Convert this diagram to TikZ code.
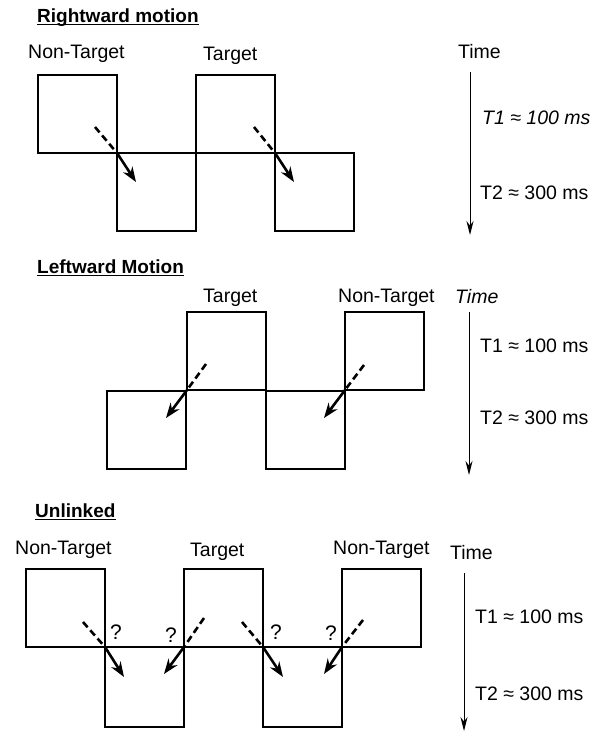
\documentclass[tikz,border=0pt]{standalone}
\usepackage{fontspec}
\setmainfont{Liberation Sans}
\usetikzlibrary{arrows.meta}
\begin{document}
\begin{tikzpicture}[x=1pt,y=-1pt,
 box/.style={draw, line width=1.3pt, minimum width=79pt, minimum height=78pt, inner sep=0pt, outer sep=0pt, anchor=north west},
 lbl/.style={anchor=base west, inner sep=0pt, font=\fontsize{19.5}{22}\selectfont},
 ttl/.style={anchor=base west, inner sep=0pt, font=\fontsize{19}{22}\selectfont\bfseries},
 uline/.style={line width=1.6pt},
 dashpart/.style={line width=2.6pt, dash pattern=on 7pt off 4pt},
 headpart/.style={line width=2.6pt, -{Stealth[length=15pt,width=11pt]}},
 timeaxis/.style={line width=1pt, -{Stealth[length=14pt,width=7pt]}}]
\useasboundingbox (0,0) rectangle (601,732);

% ---------------- Rightward motion ----------------
\node[ttl] (t1) at (37,22) {Rightward motion};
\draw[uline] ([yshift=-2.5pt]t1.base west) -- ([yshift=-2.5pt]t1.base east);
\node[lbl] (r-nt) at (28,58) {Non-Target};
\node[lbl] (r-t) at (203,60) {Target};
\node[lbl] (r-time) at (458,58) {Time};
\node[lbl, font=\fontsize{19.5}{22}\selectfont\itshape] (r-t1) at (482,124) {T1 ≈ 100 ms};
\node[lbl] (r-t2) at (480,199) {T2 ≈ 300 ms};

\node[box] (rb1) at (38,75) {};
\node[box] (rb2) at (117,153) {};
\node[box] (rb3) at (196,75) {};
\node[box] (rb4) at (275,153) {};

\draw[dashpart] ([shift={(-22,-26)}]rb1.south east) -- (rb1.south east);
\draw[headpart] (rb1.south east) -- ([shift={(19,29)}]rb1.south east);
\draw[dashpart] ([shift={(-21,-26)}]rb3.south east) -- (rb3.south east);
\draw[headpart] (rb3.south east) -- ([shift={(19,29)}]rb3.south east);

\coordinate (ra-s) at (470,72);
\coordinate (ra-e) at (470,235);
\draw[timeaxis] (ra-s) -- (ra-e);

% ---------------- Leftward Motion ----------------
\node[ttl] (t2) at (37,273) {Leftward Motion};
\draw[uline] ([yshift=-2.5pt]t2.base west) -- ([yshift=-2.5pt]t2.base east);
\node[lbl] (l-t) at (203,302) {Target};
\node[lbl] (l-nt) at (338,302) {Non-Target};
\node[lbl, font=\fontsize{19.5}{22}\selectfont\itshape] (l-time) at (455,303) {Time};
\node[lbl] (l-t1) at (480,352) {T1 ≈ 100 ms};
\node[lbl] (l-t2) at (480,424) {T2 ≈ 300 ms};

\node[box] (lb1) at (107,391) {};
\node[box] (lb2) at (187,312) {};
\node[box] (lb3) at (266,391) {};
\node[box] (lb4) at (345,312) {};

\draw[dashpart] ([shift={(19,-26)}]lb2.south west) -- (lb2.south west);
\draw[headpart] (lb2.south west) -- ([shift={(-21,28)}]lb2.south west);
\draw[dashpart] ([shift={(19,-25)}]lb4.south west) -- (lb4.south west);
\draw[headpart] (lb4.south west) -- ([shift={(-21,28)}]lb4.south west);

\coordinate (la-s) at (469,312);
\coordinate (la-e) at (469,475);
\draw[timeaxis] (la-s) -- (la-e);

% ---------------- Unlinked ----------------
\node[ttl] (t3) at (35,517) {Unlinked};
\draw[uline] ([yshift=-2.5pt]t3.base west) -- ([yshift=-2.5pt]t3.base east);
\node[lbl] (u-nt1) at (15,554) {Non-Target};
\node[lbl] (u-t) at (190,556) {Target};
\node[lbl] (u-nt2) at (333,554) {Non-Target};
\node[lbl] (u-time) at (450,559) {Time};
\node[lbl] (u-t1) at (475,623) {T1 ≈ 100 ms};
\node[lbl] (u-t2) at (475,700) {T2 ≈ 300 ms};

\node[box] (ub1) at (26,569) {};
\node[box, minimum height=80pt] (ub2) at (105,647) {};
\node[box] (ub3) at (184,569) {};
\node[box, minimum height=80pt] (ub4) at (263,647) {};
\node[box] (ub5) at (342,569) {};

\node[lbl, font=\fontsize{21}{22}\selectfont] (q1) at (110,639) {?};
\node[lbl, font=\fontsize{21}{22}\selectfont] (q2) at (165,642) {?};
\node[lbl, font=\fontsize{21}{22}\selectfont] (q3) at (270,639) {?};
\node[lbl, font=\fontsize{21}{22}\selectfont] (q4) at (325,640) {?};

\draw[dashpart] ([shift={(-22,-25)}]ub1.south east) -- (ub1.south east);
\draw[headpart] (ub1.south east) -- ([shift={(19,30)}]ub1.south east);
\draw[dashpart] ([shift={(20,-29)}]ub3.south west) -- (ub3.south west);
\draw[headpart] (ub3.south west) -- ([shift={(-20,27)}]ub3.south west);
\draw[dashpart] ([shift={(-21,-25)}]ub3.south east) -- (ub3.south east);
\draw[headpart] (ub3.south east) -- ([shift={(20,30)}]ub3.south east);
\draw[dashpart] ([shift={(21,-27)}]ub5.south west) -- (ub5.south west);
\draw[headpart] (ub5.south west) -- ([shift={(-18,27)}]ub5.south west);

\coordinate (ua-s) at (464,573);
\coordinate (ua-e) at (464,731);
\draw[timeaxis] (ua-s) -- (ua-e);
\end{tikzpicture}
\end{document}
